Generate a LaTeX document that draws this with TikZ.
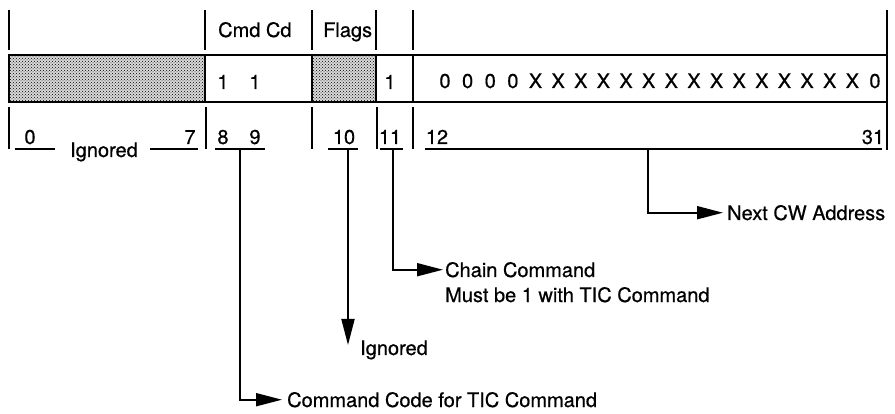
\documentclass[tikz,border=0pt]{standalone}
\usepackage{fontspec}
\setmainfont{TeX Gyre Heros}[FakeBold=0.6]
\usetikzlibrary{arrows.meta,patterns}
\begin{document}
\begin{tikzpicture}[x=1pt,y=-1pt,
  txt/.style={inner sep=0pt, font=\fontsize{20}{24}\selectfont},
  tick/.style={line width=2.2pt},
  boxline/.style={line width=2.4pt},
  uline/.style={line width=1.7pt},
  conn/.style={line width=1.8pt, -{Triangle[length=26pt,width=13pt]}},
  shadefill/.style={pattern=crosshatch dots, pattern color=black},
]
\useasboundingbox (0,0) rectangle (895,414);

% shaded fields
\fill[black!15] (9,55) rectangle (205,102);
\fill[black!15] (312,55) rectangle (376,102);
\fill[shadefill] (9,55) rectangle (205,102);
\fill[shadefill] (312,55) rectangle (376,102);

% the word box
\draw[boxline] (9,55) rectangle (887,102);
\foreach \xx in {205,312,376,413} \draw[boxline] (\xx,55) -- (\xx,102);

% top ticks
\foreach \xx in {9,205,312,376,413} \draw[tick] (\xx,10) -- (\xx,50);
\draw[tick] (887,10) -- (887,150);
% bottom ticks
\foreach \xx in {9,206,312,377,413} \draw[tick] (\xx,107) -- (\xx,149);

% field names
\node[txt, anchor=base west] (cmdcd) at (218,37) {Cmd Cd};
\node[txt, anchor=base west] (flags) at (323,37) {Flags};

% box contents
\node[txt, anchor=base] (v8) at (223,89) {1};
\node[txt, anchor=base] (v9) at (255,89) {1};
\node[txt, anchor=base] (v11) at (390,89) {1};
\foreach \c [count=\i from 0] in {0,0,0,0,X,X,X,X,X,X,X,X,X,X,X,X,X,X,X,0}
  \node[txt, anchor=base] (bit\i) at (445+\i*22.63,88) {\c};

% bit numbers
\node[txt, anchor=base] (l0) at (30,144) {0};
\node[txt, anchor=base] (l7) at (190,144) {7};
\node[txt, anchor=base] (l8) at (223,144) {8};
\node[txt, anchor=base] (l9) at (255,144) {9};
\node[txt, anchor=base] (l10) at (344,144) {10};
\node[txt, anchor=base] (l11) at (390,144) {11};
\node[txt, anchor=base] (l12) at (437,144) {12};
\node[txt, anchor=base] (l31) at (873,144) {31};
\node[txt, anchor=base] (ign) at (104,157) {Ignored};

% underlines
\draw[uline] (15,149) -- (55,149);
\draw[uline] (150,149) -- (198,149);
\draw[uline] (215,149) -- (265,149);
\draw[uline] (328,149) -- (358,149);
\draw[uline] (380,149) -- (403,149);
\draw[uline] (425,149) -- (882,149);

% branch points
\coordinate (u89) at (240,149);
\coordinate (u10) at (348,149);
\coordinate (u11) at (393,149);
\coordinate (u12) at (648,149);
\coordinate (t10) at (348,345);

% descriptions
\node[txt, anchor=base west] (next) at (727,220) {Next CW Address};
\node[txt, anchor=base west] (chain) at (445,277) {Chain Command};
\node[txt, anchor=base west] (must) at (445,302) {Must be 1 with TIC Command};
\node[txt, anchor=base west] (ign10) at (360,355) {Ignored};
\node[txt, anchor=base west] (cmdcode) at (287,407) {Command Code for TIC Command};

% connectors
\draw[conn] (u12) |- ([xshift=-4pt]next.west);
\draw[conn] (u11) |- ([xshift=-2pt]chain.west);
\draw[conn] (u10) -- (t10);
\draw[conn] (u89) |- ([xshift=-5pt]cmdcode.west);
\end{tikzpicture}
\end{document}
